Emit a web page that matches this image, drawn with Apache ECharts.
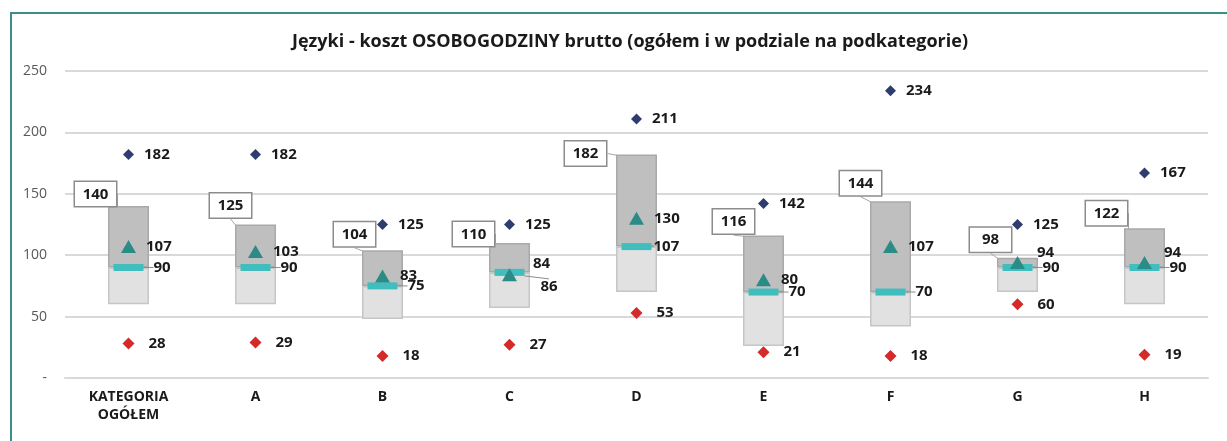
<!DOCTYPE html>
<html>
<head>
<meta charset="utf-8">
<script src="https://cdn.jsdelivr.net/npm/echarts@6/dist/echarts.min.js"></script>
<style>
  html, body { margin: 0; padding: 0; background: #fff; }
  #chart { width: 1227px; height: 441px; }
</style>
</head>
<body>
<div id="chart"></div>
<script>
const categories = ['KATEGORIA\nOGÓŁEM', 'A', 'B', 'C', 'D', 'E', 'F', 'G', 'H']
const q1 = [60, 60, 48, 57, 70, 26, 42, 70, 60]
const median = [90, 90, 75, 86, 107, 70, 70, 90, 90]
const q3 = [140, 125, 104, 110, 182, 116, 144, 98, 122]
const mean = [107, 103, 83, 84, 130, 80, 107, 94, 94]
const maxVal = [182, 182, 125, 125, 211, 142, 234, 125, 167]
const minVal = [28, 29, 18, 27, 53, 21, 18, 60, 19]
const yTicks = ['-', '50', '100', '150', '200', '250']

// where the callout for Q3 sits, relative to the top of the box
const q3Shift = [[-33, 0], [-25, -7], [-28, -4], [-36, 3], [-51, 11], [-30, -2], [-30, -6], [-27, -6], [-38, -3]]

const font = '"Open Sans", Lato, sans-serif'
const txt = '#1a1a1a'

const chart = echarts.init(document.getElementById('chart'))

const lower = median.map((m, i) => m - q1[i])
const upper = q3.map((q, i) => q - median[i])

const valueLabel = (distance) => ({
  show: true, position: 'right', distance: distance,
  color: txt, fontWeight: 'bold', fontSize: 15, fontFamily: font
})

chart.setOption({
  animation: false,
  textStyle: { fontFamily: font },
  title: {
    text: 'Języki - koszt OSOBOGODZINY brutto (ogółem i w podziale na podkategorie)',
    left: 625,
    textAlign: 'center',
    top: 28,
    textStyle: { fontSize: 18, fontWeight: 'bold', color: txt, fontFamily: font }
  },
  graphic: [{
    type: 'rect',
    shape: { x: 11, y: 13, width: 1300, height: 500 },
    style: { fill: 'none', stroke: '#3a8f8a', lineWidth: 2 },
    silent: true
  }],
  grid: { left: 65, right: 19, top: 71, bottom: 63 },
  xAxis: {
    type: 'category',
    data: categories,
    axisTick: { show: false },
    axisLine: { lineStyle: { color: '#d9d9d9', width: 2 } },
    axisLabel: { color: txt, fontWeight: 'bold', fontSize: 14, margin: 10, lineHeight: 18, fontFamily: font }
  },
  yAxis: {
    type: 'value',
    min: 0,
    max: 250,
    interval: 50,
    axisLine: { show: false },
    axisTick: { show: false },
    splitLine: { lineStyle: { color: '#d9d9d9', width: 2 } },
    axisLabel: {
      color: '#595959', fontSize: 14, margin: 18, fontFamily: font,
      formatter: v => yTicks[v / 50]
    }
  },
  series: [
    {
      type: 'bar', stack: 'box', barWidth: 41, data: q1,
      itemStyle: { color: 'transparent' }, silent: true
    },
    {
      type: 'bar', stack: 'box', data: lower,
      itemStyle: { color: '#e1e1e1', borderColor: '#c6c6c6', borderWidth: 1.5 }
    },
    {
      type: 'bar', stack: 'box', data: upper,
      itemStyle: { color: '#bfbfbf', borderColor: '#a9a9a9', borderWidth: 1.5 },
      label: {
        show: true,
        position: 'top',
        distance: 0,
        formatter: p => String(q3[p.dataIndex]),
        color: txt, fontWeight: 'bold', fontSize: 15, fontFamily: font,
        backgroundColor: '#fff', borderColor: '#8c8c8c', borderWidth: 1.5,
        width: 33, align: 'center', padding: [5, 4, 4, 4]
      },
      labelLine: { show: true, lineStyle: { color: '#a6a6a6', width: 1 } },
      labelLayout: p => ({ dx: q3Shift[p.dataIndex][0], dy: q3Shift[p.dataIndex][1] })
    },
    {
      type: 'scatter', data: median, symbol: 'rect', symbolSize: [30, 7],
      itemStyle: { color: '#40bdbd', opacity: 1 }, z: 5,
      label: valueLabel(10),
      labelLine: { show: true, lineStyle: { color: '#8c8c8c' } },
      labelLayout: p => p.dataIndex === 3 ? { dx: 6, dy: 14 } : (p.dataIndex === 4 ? { dx: -8 } : {})
    },
    {
      type: 'scatter', data: mean, symbol: 'triangle', symbolSize: [15, 13],
      itemStyle: { color: '#2b8b87', opacity: 1 }, z: 6,
      label: valueLabel(10),
      labelLayout: p => {
        const i = p.dataIndex
        if (i === 3) return { dx: 6, dy: -11 }
        if (i === 7 || i === 8) return { dx: 2, dy: -10 }
        return {}
      }
    },
    {
      type: 'scatter', data: maxVal, symbol: 'diamond', symbolSize: 11,
      itemStyle: { color: '#2f3c6e', opacity: 1 },
      label: valueLabel(10)
    },
    {
      type: 'scatter', data: minVal, symbol: 'diamond', symbolSize: 12,
      itemStyle: { color: '#d42a2a', opacity: 1 },
      label: valueLabel(14)
    }
  ]
})
</script>
</body>
</html>
